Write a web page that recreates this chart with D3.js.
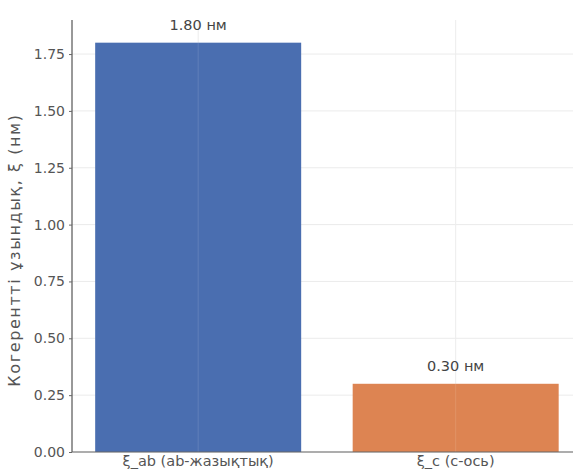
<!DOCTYPE html>
<html><head><meta charset="utf-8">
<script src="https://cdn.jsdelivr.net/npm/d3@7"></script>
<style>body{margin:0;background:#fff}svg{display:block}text{font-family:"DejaVu Sans",sans-serif}</style>
</head><body><svg id="c" width="573" height="470"></svg>
<script>
const categories = ["ξ_ab (ab-жазықтық)", "ξ_c (c-ось)"];
const values = [1.80, 0.30];
const valueLabels = ["1.80 нм", "0.30 нм"];
const colors = ["#4a6eb0", "#dd8452"];
const yTicks = [0, 0.25, 0.5, 0.75, 1.0, 1.25, 1.5, 1.75];
const yLabel = "Когерентті ұзындық, ξ (нм)";

(function () {
const svg = d3.select("#c");
const mLeft = 72, mBottom = 452, mTop = 20;
const x = d3.scaleLinear().domain([-0.49, 1.49]).range([mLeft, mLeft + 1.98 * 257.5]);
const y = d3.scaleLinear().domain([0, 1.89]).range([mBottom, mBottom - 1.89 * 227.4]);
const bw = x(0.4) - x(-0.4);

const g = svg.append("g");
g.selectAll(".hg").data(yTicks).enter().append("line")
  .attr("x1", mLeft).attr("x2", 573).attr("y1", d => y(d)).attr("y2", d => y(d))
  .attr("stroke", "#ebebeb").attr("stroke-width", 1);
g.selectAll(".vg").data(categories).enter().append("line")
  .attr("x1", (d, i) => x(i)).attr("x2", (d, i) => x(i)).attr("y1", mTop).attr("y2", mBottom)
  .attr("stroke", "#ebebeb").attr("stroke-width", 1);

svg.selectAll(".bar").data(values).enter().append("rect")
  .attr("x", (d, i) => x(i) - bw / 2).attr("width", bw)
  .attr("y", d => y(d)).attr("height", d => mBottom - y(d))
  .attr("fill", (d, i) => colors[i]);

svg.selectAll(".vg2").data(categories).enter().append("line")
  .attr("x1", (d, i) => x(i)).attr("x2", (d, i) => x(i)).attr("y1", mTop).attr("y2", mBottom)
  .attr("stroke", "#ffffff").attr("stroke-opacity", 0.12).attr("stroke-width", 1);

svg.selectAll(".vl").data(values).enter().append("text")
  .attr("x", (d, i) => x(i)).attr("y", d => y(d) - 13)
  .attr("text-anchor", "middle").attr("font-size", 14.5).attr("fill", "#444")
  .text((d, i) => valueLabels[i]);

const yAxis = d3.axisLeft(y).tickValues(yTicks).tickFormat(d3.format(".2f")).tickSize(3).tickPadding(4);
const ya = svg.append("g").attr("transform", `translate(${mLeft},0)`).call(yAxis);
ya.select(".domain").attr("d", `M0,${mTop}V${mBottom}`).attr("stroke", "#333");
ya.selectAll(".tick line").attr("stroke", "#666");
ya.selectAll("text").attr("font-size", 14).attr("fill", "#555").attr("font-family", "DejaVu Sans");

const xa = svg.append("g").attr("transform", `translate(0,${mBottom})`);
xa.append("line").attr("x1", mLeft).attr("x2", 573).attr("stroke", "#666").attr("stroke-width", 1.2);
xa.selectAll(".xl").data(categories).enter().append("text")
  .attr("x", (d, i) => x(i)).attr("y", 13.5)
  .attr("text-anchor", "middle").attr("font-size", 14.5).attr("fill", "#555")
  .text(d => d);

svg.append("text").attr("transform", `translate(20,250) rotate(-90)`)
  .attr("text-anchor", "middle").attr("font-size", 16).attr("letter-spacing", 1.6)
  .attr("fill", "#555").text(yLabel);
})();
</script></body></html>
